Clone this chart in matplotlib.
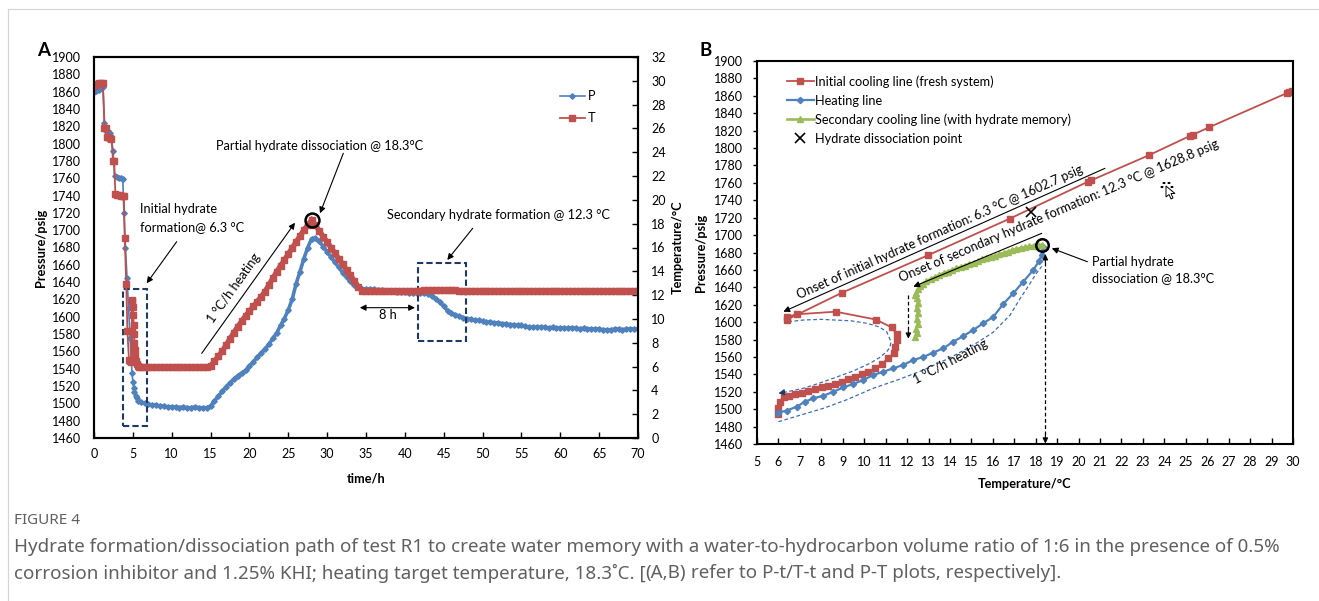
import numpy as np
import matplotlib
matplotlib.use("Agg")
import matplotlib.pyplot as plt
from matplotlib.lines import Line2D
from matplotlib.patches import Rectangle, Polygon, Circle

plt.rcParams["font.family"] = ["Lato", "DejaVu Sans"]
plt.rcParams["font.size"] = 9.2

RED = "#C0504D"
BLUE = "#4F81BD"
GREEN = "#9BBB59"
NAVY = "#1F3864"
DASH_BLUE = "#3F6DB5"

# ---------------- (A) P-t / T-t ----------------
# fast cooling and hydrate onset (irregular logging)
t_early_T = [0.0, 0.3, 0.6, 0.9, 1.15, 1.35, 1.5, 1.65, 1.85, 2.05, 2.25, 2.45, 2.6,
             2.75, 3.0, 3.25, 3.5, 3.7, 3.85, 3.95, 4.15, 4.3, 4.5, 4.65, 4.8, 4.85,
             4.9, 4.95, 5.0, 5.05, 5.1, 5.15, 5.2, 5.25, 5.3, 5.4, 5.5, 5.6, 5.8]
T_early = [29.6, 29.75, 29.8, 29.8, 29.8, 26.05, 26.0, 25.3, 25.3, 25.2, 25.15, 23.3, 23.25,
           20.5, 20.45, 20.4, 20.35, 20.3, 20.3, 16.8, 12.95, 8.95, 6.55, 6.45, 6.4, 9.0,
           11.6, 11.5, 11.0, 10.3, 9.5, 8.7, 8.0, 7.4, 6.9, 6.5, 6.2, 6.05, 6.0]
t_early_P = [0.0, 0.3, 0.6, 0.9, 1.15, 1.35, 1.55, 1.8, 2.05, 2.25, 2.45, 2.65, 2.9, 3.2,
             3.5, 3.7, 3.85, 4.05, 4.25, 4.45, 4.65, 4.8, 4.9, 5.0, 5.1, 5.2, 5.35, 5.5, 5.7]
P_early = [1860, 1861, 1862, 1864, 1865, 1824, 1815, 1814, 1812, 1805, 1792, 1762, 1761, 1760,
           1760, 1759, 1720, 1680, 1645, 1610, 1575, 1548, 1535, 1525, 1518, 1513, 1509, 1506, 1503]

# half-hourly logged sections
t_hold_low = np.arange(6.0, 14.51, 0.5)
t_heat = np.arange(15.0, 28.01, 0.5)
t_cool = np.arange(28.5, 34.51, 0.5)
t_hold_high = np.arange(35.0, 70.01, 0.5)

T_hold_low = [5.98, 5.97, 5.98, 5.97, 5.96, 5.97, 5.98, 5.97, 5.96,
              5.97, 5.98, 5.97, 5.96, 5.97, 5.97, 5.96, 5.97, 5.98]
T_heat = [6.05, 6.45, 6.85, 7.3, 7.8, 8.35, 8.85, 9.35, 9.8, 10.25,
          10.65, 11.05, 11.45, 11.85, 12.3, 12.85, 13.4, 13.95, 14.45, 14.95,
          15.45, 15.95, 16.45, 16.95, 17.45, 17.9, 18.3]
T_cool = [17.85, 17.4, 16.9, 16.45, 16.0, 15.5, 15.05, 14.6, 14.1, 13.65, 13.2, 12.7, 12.38]
T_hold_high = [12.33, 12.32, 12.33, 12.33, 12.32, 12.33, 12.34, 12.33, 12.33, 12.34,
               12.34, 12.35, 12.34, 12.35, 12.38, 12.40, 12.42, 12.43, 12.42, 12.42,
               12.43, 12.42, 12.40, 12.40, 12.38, 12.38, 12.38, 12.37, 12.38, 12.37,
               12.37, 12.38, 12.36, 12.37, 12.36, 12.37, 12.36, 12.36, 12.37, 12.36,
               12.35, 12.36, 12.35, 12.35, 12.36, 12.35, 12.35, 12.34, 12.35, 12.35,
               12.34, 12.35, 12.34, 12.34, 12.35, 12.34, 12.34, 12.33, 12.34, 12.34,
               12.33, 12.34, 12.33, 12.33, 12.34, 12.33, 12.33, 12.32, 12.33, 12.33,
               12.33]

P_hold_low = [1501, 1500, 1499, 1498, 1498, 1497, 1497, 1496, 1496,
              1496, 1495, 1496, 1495, 1495, 1496, 1495, 1495, 1495]
P_heat = [1497, 1503, 1508, 1514, 1519, 1524, 1528, 1532, 1535, 1538,
          1543, 1548, 1553, 1558, 1563, 1568, 1575, 1581, 1590, 1598,
          1608, 1620, 1638, 1652, 1667, 1680, 1690]
P_cool = [1691, 1687, 1681, 1675, 1669, 1663, 1657, 1651, 1646, 1641, 1637, 1634, 1632.5]
P_hold_high = [1632, 1632, 1631.5, 1631, 1631, 1630, 1630, 1629.5, 1629, 1629,
               1628.5, 1628, 1628, 1627.5, 1627, 1627, 1626, 1624, 1621, 1617,
               1612, 1607, 1604, 1602, 1601, 1599, 1598, 1597, 1596, 1596,
               1595, 1594, 1594, 1593, 1593, 1592, 1592, 1591, 1591, 1590,
               1590, 1589, 1588, 1588, 1588, 1588, 1588, 1587, 1588, 1587,
               1587, 1587, 1587, 1587, 1587, 1586, 1587, 1586, 1586, 1586,
               1586, 1585, 1585, 1585, 1586, 1586, 1585, 1586, 1586, 1586,
               1586]

time_T = np.concatenate([t_early_T, t_hold_low, t_heat, t_cool, t_hold_high])
temp_T = np.concatenate([T_early, T_hold_low, T_heat, T_cool, T_hold_high])
time_P = np.concatenate([t_early_P, t_hold_low, t_heat, t_cool, t_hold_high])
pres_P = np.concatenate([P_early, P_hold_low, P_heat, P_cool, P_hold_high])
n_early_T = len(t_early_T)
n_early_P = len(t_early_P)

# ---------------- (B) P-T ----------------
cool_T = [29.94, 29.8, 29.7, 26.1, 25.35, 25.2, 23.3, 20.6, 20.45, 16.8, 12.99, 8.98,
          6.38, 6.4, 6.85, 8.67, 10.54, 11.28, 11.51, 11.54, 11.44, 11.4, 11.12, 10.81,
          10.5, 10.19, 9.88, 9.57, 9.26, 8.95, 8.64, 8.33, 8.02, 7.71, 7.4, 7.09, 6.78,
          6.47, 6.24, 6.08, 5.96, 5.96]
cool_P = [1865, 1864, 1863, 1824, 1815.5, 1814, 1792, 1763, 1761.5, 1719, 1677, 1634,
          1602.7, 1606, 1609, 1612, 1603, 1594, 1586, 1579, 1571, 1565, 1558.4, 1552,
          1547, 1543, 1540.4, 1537, 1534.7, 1531.6, 1529, 1527, 1525.1, 1522.8, 1520.9,
          1519, 1517.4, 1515.5, 1513.6, 1508.6, 1501, 1495]

heat_T = [5.96, 6.38, 6.85, 7.24, 7.63, 8.1, 8.56, 9.03, 9.49, 9.96, 10.42, 10.89, 11.36,
          11.82, 12.29, 12.76, 13.22, 13.69, 14.15, 14.62, 15.09, 15.55, 16.02, 16.49,
          16.95, 17.42, 17.89, 18.15, 18.28, 18.33]
heat_P = [1496, 1498.3, 1502.9, 1508.6, 1512.5, 1515.5, 1520, 1525, 1529, 1533.5, 1539.3,
          1543, 1547, 1550.8, 1556.5, 1560, 1565, 1570, 1577.5, 1584, 1591, 1598.7, 1606,
          1621, 1633, 1646.5, 1660, 1670, 1677, 1686]

memory_T = [18.3, 18.1, 17.9, 17.7, 17.5, 17.3, 17.1, 16.9, 16.7, 16.5, 16.3, 16.1, 15.9,
            15.7, 15.5, 15.3, 15.1, 14.9, 14.7, 14.5, 14.3, 14.1, 13.9, 13.7, 13.5, 13.3,
            13.1, 12.9, 12.75, 12.6, 12.5, 12.42, 12.35, 12.45, 12.5, 12.45, 12.5, 12.45,
            12.5, 12.42, 12.45, 12.38]
memory_P = [1689, 1688.5, 1688, 1687, 1686, 1685, 1684, 1682.5, 1681, 1679.5, 1678, 1676.5,
            1675, 1673.5, 1672, 1670, 1668, 1666.5, 1665, 1663.5, 1662, 1660, 1658, 1656.5,
            1654, 1652, 1649.5, 1647, 1644, 1641, 1638, 1634, 1631, 1628, 1622, 1616, 1610,
            1604, 1598, 1592, 1587, 1583]

dissociation_T = [17.8]
dissociation_P = [1726]

# guide curves sketched around the paths
lower_guide_T = [6.0, 7.0, 8.1, 9.2, 10.42, 11.6, 12.76, 14.0, 15.09, 16.0, 16.8, 17.27,
                 17.7, 18.0, 18.28]
lower_guide_P = [1485.6, 1493, 1501, 1511, 1524, 1534, 1545, 1559, 1573.7, 1588, 1608, 1627,
                 1643, 1655, 1664]
loop_guide_T = [6.46, 7.2, 8.0, 8.56, 9.4, 10.12, 10.7, 11.05, 11.25, 11.2, 11.05, 10.7,
                10.27, 9.5, 8.56, 7.8, 7.16, 6.5, 6.1]
loop_guide_P = [1600.5, 1602.5, 1603.2, 1602.5, 1601.5, 1598.7, 1594.5, 1589, 1577.5, 1571,
                1566, 1559, 1552.7, 1544, 1535.5, 1529, 1524, 1520.5, 1518.6]

# ---------------- figure ----------------
W, H = 1319, 601
fig = plt.figure(figsize=(W / 100, H / 100), dpi=100)


def box(l, t, r, b):
    return [l / W, 1 - b / H, (r - l) / W, (b - t) / H]


def arrow(ax, start, end, color="black", lw=0.8, style="-|>", scale=9, **kw):
    ax.annotate("", xy=end, xytext=start,
                arrowprops=dict(arrowstyle=style, color=color, lw=lw,
                                mutation_scale=scale, shrinkA=0, shrinkB=0), **kw)


# frame lines of the page
fig.add_artist(Line2D([8 / W, 1], [1 - 9 / H, 1 - 9 / H], transform=fig.transFigure,
                      color="#d4d4d4", lw=0.8))
fig.add_artist(Line2D([8 / W, 8 / W], [0, 1 - 9 / H], transform=fig.transFigure,
                      color="#d4d4d4", lw=0.8))

# ----- panel A -----
axA = fig.add_axes(box(94, 57, 638, 438))
axT = axA.twinx()
axA.plot(time_P[n_early_P - 1:], pres_P[n_early_P - 1:], color=BLUE, lw=2.6,
         solid_joinstyle="round")
axA.plot(time_P, pres_P, color=BLUE, lw=1.2, marker="D", ms=2.8, mfc=BLUE, mec=BLUE)
axT.plot(time_T[n_early_T - 1:], temp_T[n_early_T - 1:], color=RED, lw=3.8,
         solid_joinstyle="miter")
axT.plot(time_T, temp_T, color=RED, lw=1.3, marker="s", ms=4.4, mfc=RED, mec=RED)

axA.set_xlim(0, 70)
axA.set_ylim(1460, 1900)
axT.set_ylim(0, 32)
axA.set_xticks(range(0, 71, 5))
axA.set_yticks(range(1460, 1901, 20))
axT.set_yticks(range(0, 33, 2))
axA.tick_params(axis="x", direction="in", length=4, width=1, pad=7.5, labelsize=9)
axA.tick_params(axis="y", length=0, pad=9.5, labelsize=9)
axT.tick_params(axis="y", direction="in", length=4, width=1, pad=9.5, labelsize=9)
for a in (axA, axT):
    for s in a.spines.values():
        s.set_linewidth(1.5)

axA.set_xlabel("time/h", fontweight="bold", va="center")
axA.xaxis.set_label_coords(0.5, -0.105)
axA.set_ylabel("Pressure/psig", fontweight="bold", va="center")
axA.yaxis.set_label_coords(-0.0974, 0.5)
axT.set_ylabel("Temperature/°C", fontweight="bold", va="center", rotation=90)
axT.yaxis.set_label_coords(1.0726, 0.5)

pA = axA.transData
axT.add_patch(Rectangle((3.77, 1473.9), 3.01, 157.8, transform=pA, fill=False,
                        ec=NAVY, lw=1.5, ls=(0, (3, 1.5))))
axT.add_patch(Rectangle((41.74, 1572.0), 6.16, 89.7, transform=pA, fill=False,
                        ec=NAVY, lw=1.5, ls=(0, (3, 1.5))))
axT.plot([28.0], [18.3], marker="o", ms=10, mfc="none", mec="black", mew=1.8)

axT.text(5.92, 1724.5, "Initial hydrate", transform=pA, va="center", ha="left")
axT.text(5.92, 1703.3, "formation@ 6.3 °C", transform=pA, va="center", ha="left")
arrow(axT, (10.64, 1686.7), (6.78, 1638.7), xycoords=pA, textcoords=pA)
axT.text(15.7, 1797.2, "Partial hydrate dissociation @ 18.3°C", transform=pA,
         va="center", ha="left")
arrow(axT, (32.08, 1788.8), (29.08, 1719.5), xycoords=pA, textcoords=pA)
axT.text(37.7, 1717.5, "Secondary hydrate formation @ 12.3 °C", transform=pA,
         va="center", ha="left")
arrow(axT, (48.73, 1702.2), (45.46, 1665.6), xycoords=pA, textcoords=pA)
arrow(axT, (13.86, 1557.8), (25.86, 1708.6), xycoords=pA, textcoords=pA)
axT.text(18.0, 1633, "1 °C/h heating", transform=pA, rotation=54.5,
         rotation_mode="anchor", ha="center", va="center")
arrow(axT, (34.2, 1610.5), (41.3, 1610.5), style="<|-|>", xycoords=pA, textcoords=pA)
axT.text(37.83, 1602.5, "8 h", transform=pA, ha="center", va="center")

axT.legend([Line2D([], [], color=BLUE, lw=1.2, marker="D", ms=2.8),
            Line2D([], [], color=RED, lw=1.3, marker="s", ms=4.4)],
           ["P", "T"], loc="upper left", bbox_to_anchor=(0.8566, 0.913),
           frameon=False, borderpad=0, borderaxespad=0, handlelength=1.95,
           handletextpad=0.25, labelspacing=0.78)

# ----- panel B -----
axB = fig.add_axes(box(757, 61, 1293, 444))
axB.plot(lower_guide_T, lower_guide_P, color=DASH_BLUE, lw=0.9, ls=(0, (3, 2)))
axB.plot(loop_guide_T, loop_guide_P, color=DASH_BLUE, lw=0.9, ls=(0, (3, 2)))
arrow(axB, (6.3, 1519.6), (6.0, 1518.2), color=NAVY, lw=0.8, scale=9)

axB.plot(cool_T, cool_P, color=RED, lw=1.3, marker="s", ms=4.6, mfc=RED, mec=RED,
         label="Initial cooling line (fresh system)")
axB.plot(heat_T, heat_P, color=BLUE, lw=1.6, marker="D", ms=3.2, mfc=BLUE, mec=BLUE,
         label="Heating line")
axB.plot(memory_T, memory_P, color=GREEN, lw=1.9, marker="^", ms=3.8, mfc=GREEN, mec=GREEN,
         label="Secondary cooling line (with hydrate memory)")
axB.plot(dissociation_T, dissociation_P, ls="none", marker="x", ms=7, mew=1.2,
         color="black", label="Hydrate dissociation point")
axB.plot([18.3], [1689], marker="o", ms=9, mfc="none", mec="black", mew=1.8)

axB.set_xlim(5, 30)
axB.set_ylim(1460, 1900)
axB.set_xticks(range(5, 31))
axB.set_yticks(range(1460, 1901, 20))
axB.tick_params(axis="x", direction="in", length=4, width=1, pad=8.5, labelsize=9)
axB.tick_params(axis="y", direction="out", length=3, width=1, pad=7, labelsize=9)
for s in axB.spines.values():
    s.set_linewidth(1.5)
axB.set_xlabel("Temperature/°C", fontweight="bold", va="center")
axB.xaxis.set_label_coords(0.5, -0.1044)
axB.set_ylabel("Pressure/psig", fontweight="bold", va="center")
axB.yaxis.set_label_coords(-0.1045, 0.5)

axB.legend(loc="upper left", bbox_to_anchor=(0.0554, 0.9627), frameon=False,
           borderpad=0, borderaxespad=0, handlelength=2.1, handletextpad=0.15,
           labelspacing=0.53)

arrow(axB, (21.23, 1776.7), (6.23, 1612.0))
axB.text(13.54, 1703.5, "Onset of initial hydrate formation: 6.3 °C @ 1602.7 psig",
         rotation=24, rotation_mode="anchor", ha="center", va="center")
arrow(axB, (18.28, 1702.0), (12.29, 1640.7))
axB.text(19.09, 1727.7, "Onset of secondary hydrate formation: 12.3 °C @ 1628.8 psig",
         rotation=23, rotation_mode="anchor", ha="center", va="center")
axB.text(14.05, 1554.2, "1 °C/h heating", rotation=27.6, rotation_mode="anchor",
         ha="center", va="center")
axB.text(20.62, 1669.1, "Partial hydrate", ha="left", va="center")
axB.text(20.62, 1650.4, "dissociation @ 18.3°C", ha="left", va="center")
arrow(axB, (20.41, 1669.4), (18.75, 1684.8))

# dashed drop lines with arrow heads
axB.plot([18.45, 18.45], [1463, 1674], color="black", lw=0.9, ls=(0, (3, 2)))
arrow(axB, (18.45, 1470), (18.45, 1460.5), scale=8)
arrow(axB, (18.45, 1668), (18.45, 1678), scale=8)
axB.plot([12.06, 12.06], [1631, 1586], color="black", lw=0.9, ls=(0, (3, 2)))
arrow(axB, (12.06, 1590), (12.06, 1581), scale=8)

# small pointer icon on panel B
def fig_pts(pts):
    return [(x / W, 1 - y / H) for x, y in pts]


fig.add_artist(Polygon(fig_pts([(1166, 186), (1166, 197), (1169, 194.5), (1171, 199),
                                (1173, 198), (1171, 193.5), (1175, 193.5)]),
                       closed=True, transform=fig.transFigure, fc="white", ec="black",
                       lw=0.7))
for dx, dy in [(-4, 1), (-2, -3), (3, -3), (6, 1)]:
    fig.add_artist(Circle(((1166 + dx) / W, 1 - (186 + dy) / H), 0.8 / W,
                          transform=fig.transFigure, color="black"))

# panel letters
fig.text(44 / W, 1 - 51 / H, "A", fontsize=13.5, fontweight="bold", ha="center", va="center")
fig.text(706 / W, 1 - 51 / H, "B", fontsize=13.5, fontweight="bold", ha="center", va="center")

# caption
cap = dict(color="#606060", family=["Noto Sans", "DejaVu Sans"], fontsize=13.5, va="center")
fig.text(14 / W, 1 - 521 / H, "FIGURE 4", color="#606060",
         family=["Noto Sans", "DejaVu Sans"], fontsize=11, va="center")
fig.text(14 / W, 1 - 547 / H,
         "Hydrate formation/dissociation path of test R1 to create water memory with a "
         "water-to-hydrocarbon volume ratio of 1:6 in the presence of 0.5%", **cap)
renderer = fig.canvas.get_renderer()
y2 = 1 - 573 / H
part1 = fig.text(14 / W, y2, "corrosion inhibitor and 1.25% KHI; heating target "
                 "temperature, 18.3˚C. [", **cap)
x_next = part1.get_window_extent(renderer).x1 / W
part2 = fig.text(x_next, y2, "(A,B)", fontweight="bold", **cap)
x_next = part2.get_window_extent(renderer).x1 / W
fig.text(x_next, y2, " refer to P-t/T-t and P-T plots, respectively].", **cap)

fig.savefig("out.png", dpi=100)
